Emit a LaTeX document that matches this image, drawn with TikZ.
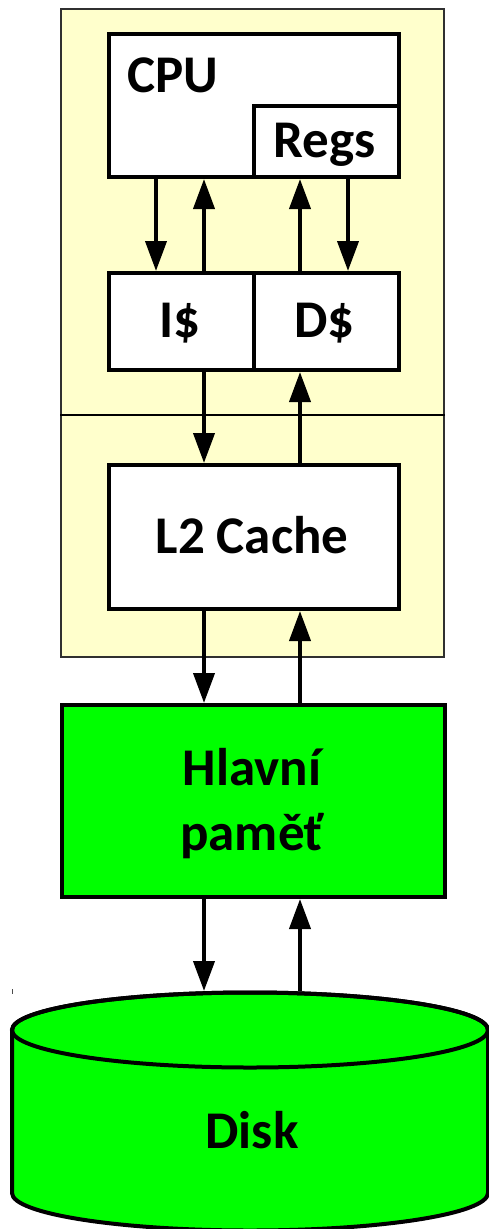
\documentclass[tikz,border=0pt]{standalone}
\usepackage{fontspec}
\setmainfont{Carlito}
\usetikzlibrary{arrows.meta}
\definecolor{chipbg}{HTML}{FFFFCC}
\definecolor{chipline}{HTML}{303030}
\definecolor{memgreen}{HTML}{00FF00}
\tikzset{
  chip/.style={draw=chipline, line width=2pt, fill=chipbg, inner sep=0pt, anchor=north west},
  box/.style={draw=black, line width=4pt, fill=white, inner sep=0pt, anchor=north west},
  membox/.style={box, fill=memgreen},
  lbl/.style={font=\bfseries\fontsize{53}{65}\selectfont, inner sep=0pt},
  arr/.style={line width=4pt, -{Triangle[length=30pt,width=21pt]}},
}
\begin{document}
\begin{tikzpicture}[x=1pt,y=-1pt]
\useasboundingbox (0,0) rectangle (489,1229);

% processor chip with its split between core and L2 area
\node[chip, minimum width=383pt, minimum height=648pt] (chip) at (60,8) {};
\coordinate (split) at (0,415);
\draw[line width=2pt] (chip.west |- split) -- (chip.east |- split);

% columns used by the connectors
\coordinate (xa) at (156,0);
\coordinate (xb) at (204,0);
\coordinate (xc) at (300,0);
\coordinate (xd) at (348,0);

% core boxes
\node[box, minimum width=290pt, minimum height=143pt] (cpu) at (107,32) {};
\node[box, minimum width=145pt, minimum height=71pt] (regs) at (252,104) {};
\node[lbl, anchor=base west] (cpulbl) at (127,92) {CPU};
\node[lbl, anchor=base] (regslbl) at (324.5,157) {Regs};

\node[box, minimum width=145pt, minimum height=97pt] (icache) at (107,271) {};
\node[box, minimum width=145pt, minimum height=97pt] (dcache) at (252,271) {};
\node[lbl, anchor=base] (ilbl) at (179.5,337) {I\$};
\node[lbl, anchor=base] (dlbl) at (324.5,337) {D\$};

\node[box, minimum width=290pt, minimum height=144pt] (l2) at (107,463) {};
\node[lbl, anchor=base] (l2lbl) at (252,553) {L2 Cache};

% main memory
\node[membox, minimum width=383pt, minimum height=192pt] (mem) at (60,703) {};
\node[lbl, anchor=base] (memlbl1) at (252,785) {Hlavní};
\node[lbl, anchor=base] (memlbl2) at (252,850) {paměť};

% disk drawn as a cylinder
\path[fill=memgreen, draw=black, line width=4pt]
  (12,1030) -- (12,1193)
  arc[start angle=180, end angle=360, x radius=238pt, y radius=37.5pt]
  -- (488,1030)
  arc[start angle=0, end angle=180, x radius=238pt, y radius=37.5pt] -- cycle;
\draw[line width=4pt] (250,1030) ellipse [x radius=238pt, y radius=37.5pt];
\node[lbl, anchor=base] (disk) at (252,1148) {Disk};
\coordinate (diskin) at (204,991);
\coordinate (diskout) at (300,991);
\draw[line width=0.8pt, black!70] (12,989) -- (12,993.5);

% connectors
\draw[arr] (cpu.south -| xa) -- (icache.north -| xa);
\draw[arr] (icache.north -| xb) -- (cpu.south -| xb);
\draw[arr] (dcache.north -| xc) -- (cpu.south -| xc);
\draw[arr] (cpu.south -| xd) -- (dcache.north -| xd);

\draw[arr] (icache.south -| xb) -- (l2.north -| xb);
\draw[arr] (l2.north -| xc) -- (dcache.south -| xc);

\draw[arr] (l2.south -| xb) -- (mem.north -| xb);
\draw[arr] (mem.north -| xc) -- (l2.south -| xc);

\draw[arr] (mem.south -| xb) -- (diskin);
\draw[arr] (diskout) -- (mem.south -| xc);
\end{tikzpicture}
\end{document}
